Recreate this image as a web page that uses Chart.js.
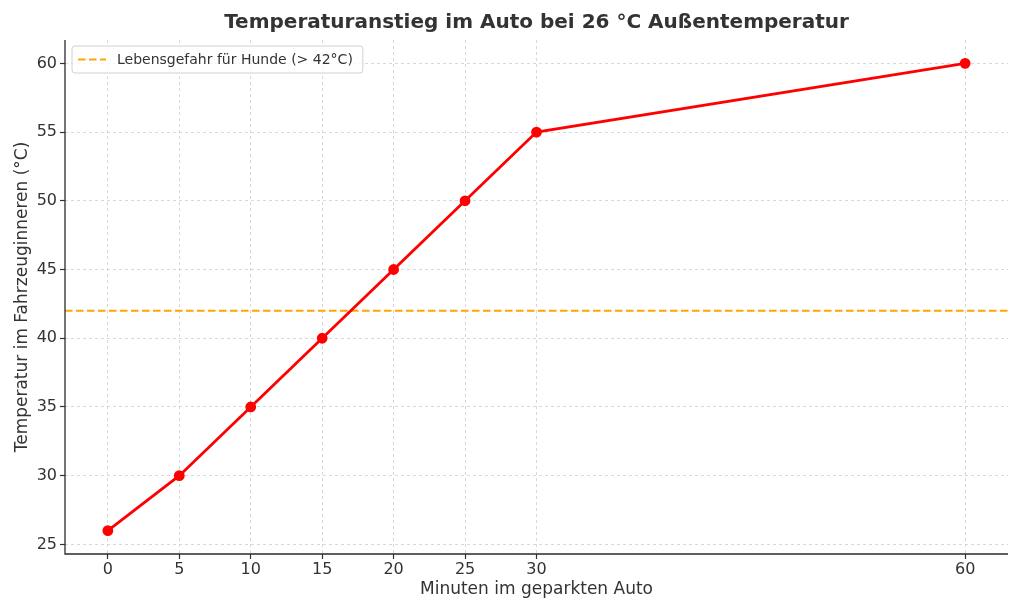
<!DOCTYPE html>
<html>
<head>
<meta charset="utf-8">
<script src="https://cdn.jsdelivr.net/npm/chart.js@4"></script>
<style>
  html, body { margin: 0; padding: 0; background: #fff; }
  #wrap { width: 1024px; height: 614px; }
</style>
</head>
<body>
<div id="wrap"><canvas id="myChart"></canvas></div>
<script>
// data
var minutes = [0, 5, 10, 15, 20, 25, 30, 60];
var temps = [26, 30, 35, 40, 45, 50, 55, 60];
var xTicks = [0, 5, 10, 15, 20, 25, 30, 60];
var yTicks = [25, 30, 35, 40, 45, 50, 55, 60];
var dangerLevel = 42;
var dangerLabel = 'Lebensgefahr für Hunde (> 42°C)';
var chartTitle = 'Temperaturanstieg im Auto bei 26 °C Außentemperatur';

var FONT = '"DejaVu Sans", sans-serif';
var xMin = -3, xMax = 63;

var linePoints = minutes.map(function(m, i) { return {x: m, y: temps[i]}; });
var dangerPoints = [{x: xMin, y: dangerLevel}, {x: xMax, y: dangerLevel}];

/* title, legend and solid spines drawn by hand */
var overlay = {
  id: 'overlay',
  afterDraw: function(chart) {
    var c = chart.ctx, a = chart.chartArea;
    c.save();
    c.fillStyle = '#333';
    c.font = 'bold 20px ' + FONT;
    c.textAlign = 'center';
    c.textBaseline = 'middle';
    c.fillText(chartTitle, (a.left + a.right) / 2, 23);

    // spines (left + bottom only)
    c.beginPath();
    c.setLineDash([]);
    c.strokeStyle = '#2b2b2b';
    c.lineWidth = 1.3;
    c.moveTo(a.left, a.top);
    c.lineTo(a.left, a.bottom);
    c.lineTo(a.right, a.bottom);
    c.stroke();

    // legend box
    c.font = '14px ' + FONT;
    var tw = c.measureText(dangerLabel).width;
    var bx = a.left + 7, by = a.top + 6, bw = tw + 55, bh = 27;
    c.beginPath();
    c.roundRect(bx, by, bw, bh, 3);
    c.fillStyle = 'rgba(255,255,255,0.8)';
    c.fill();
    c.strokeStyle = '#d0d0d0';
    c.lineWidth = 1;
    c.stroke();
    c.beginPath();
    c.setLineDash([7.5, 3.5]);
    c.strokeStyle = '#ffa500';
    c.lineWidth = 2;
    c.moveTo(bx + 6, by + bh / 2);
    c.lineTo(bx + 34, by + bh / 2);
    c.stroke();
    c.setLineDash([]);
    c.fillStyle = '#333';
    c.textAlign = 'left';
    c.fillText(dangerLabel, bx + 45, by + bh / 2 + 1);
    c.restore();
  }
};

var gridOpts = {
  color: '#cfcfcf',
  lineWidth: 0.8,
  tickColor: '#333',
  tickLength: 5,
  tickWidth: 1.2,
  tickBorderDash: []
};

var ctx = document.getElementById('myChart').getContext('2d');
var myChart = new Chart(ctx, {
  type: 'scatter',
  data: {
    datasets: [{
      label: 'Temperatur',
      data: linePoints,
      showLine: true,
      borderColor: '#ff0000',
      backgroundColor: '#ff0000',
      borderWidth: 2.8,
      pointRadius: 4,
      pointHoverRadius: 4,
      order: 1
    }, {
      label: dangerLabel,
      data: dangerPoints,
      showLine: true,
      borderColor: '#ffa500',
      borderWidth: 2,
      borderDash: [7.5, 3.5],
      pointRadius: 0,
      order: 2
    }]
  },
  options: {
    responsive: true,
    maintainAspectRatio: false,
    animation: false,
    layout: { padding: { top: 40, right: 16, left: 0, bottom: 14 } },
    plugins: {
      legend: { display: false },
      title: { display: false },
      tooltip: { enabled: false }
    },
    scales: {
      x: {
        type: 'linear',
        min: xMin,
        max: xMax,
        afterBuildTicks: function(s) { s.ticks = xTicks.map(function(v) { return {value: v}; }); },
        afterFit: function(s) { s.height = 46; },
        grid: gridOpts,
        border: { display: false, dash: [3, 3] },
        ticks: { color: '#333', font: { family: FONT, size: 16 }, padding: 1, autoSkip: false, maxRotation: 0 },
        title: { display: true, text: 'Minuten im geparkten Auto', color: '#333', font: { family: FONT, size: 17 }, padding: 0 }
      },
      y: {
        type: 'linear',
        min: 24.3,
        max: 61.7,
        afterBuildTicks: function(s) { s.ticks = yTicks.map(function(v) { return {value: v}; }); },
        afterFit: function(s) { s.width = 65; },
        grid: gridOpts,
        border: { display: false, dash: [3, 3] },
        ticks: { color: '#333', font: { family: FONT, size: 16 }, padding: 3, autoSkip: false },
        title: { display: true, text: 'Temperatur im Fahrzeuginneren (°C)', color: '#333', font: { family: FONT, size: 17 }, padding: { top: 12, bottom: 0 } }
      }
    }
  },
  plugins: [overlay]
});
</script>
</body>
</html>
